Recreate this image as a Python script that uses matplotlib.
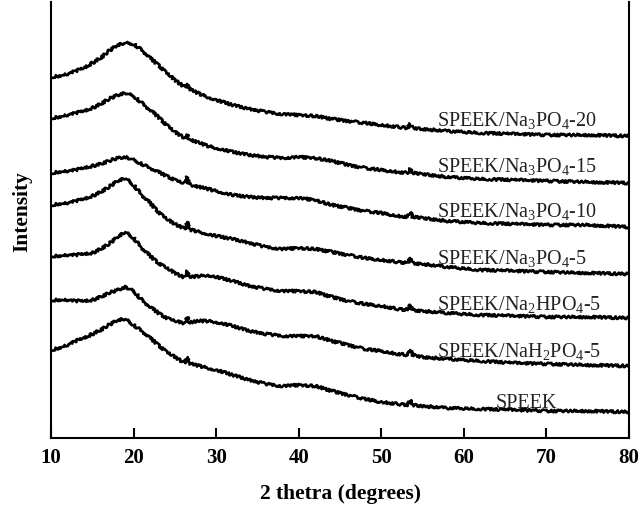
import matplotlib
matplotlib.use("Agg")
import matplotlib.pyplot as plt

plt.rcParams["font.family"] = ["Liberation Serif", "DejaVu Serif"]
plt.rcParams["mathtext.fontset"] = "custom"
plt.rcParams["mathtext.rm"] = "Liberation Serif"
plt.rcParams["mathtext.it"] = "Liberation Serif:italic"
plt.rcParams["mathtext.bf"] = "Liberation Serif:bold"

# 2-theta grid (degrees)
two_theta = [10, 11, 12, 13, 14, 15, 16, 17, 18, 19, 20, 21, 22, 23, 24, 25, 26,
             26.3, 26.5, 26.7, 27, 28, 29, 30, 32, 34, 36, 38, 40, 42, 44, 46,
             48, 50, 52, 53.2, 53.5, 53.8, 55, 58, 62, 66, 70, 75, 80]

# stacked intensities (a.u., offset for display)
na3po4_20 = [363, 364, 366, 369, 372, 377, 382, 389, 395, 397, 396, 390, 382, 375,
             367, 360, 354, 353, 356, 352, 350, 346, 343, 340, 335, 331, 328, 326,
             325, 324, 321, 319, 317, 315, 313, 312, 316, 312, 311, 309, 307, 306,
             305, 305, 304]
na3po4_15 = [322, 323, 325, 327, 329, 332, 336, 341, 345, 347, 344, 337, 330, 323,
             315, 308, 303, 302, 305, 301, 300, 297, 294, 292, 288, 285, 283, 282,
             283, 282, 279, 275, 272, 270, 268, 267, 271, 267, 266, 263, 261, 260,
             259, 258, 257]
na3po4_10 = [267, 268, 269, 270, 272, 274, 276, 279, 282, 283, 280, 276, 272, 268,
             264, 260, 257, 257, 263, 256, 255, 253, 251, 249, 245, 243, 242, 242,
             242, 240, 235, 232, 229, 227, 224, 223, 228, 223, 222, 219, 217, 216,
             215, 215, 213]
na3po4_5 = [235, 236, 237, 239, 241, 244, 248, 253, 259, 262, 255, 245, 237, 228,
            221, 216, 212, 212, 218, 211, 210, 208, 206, 204, 201, 197, 193, 191,
            192, 191, 188, 185, 182, 180, 178, 177, 182, 177, 176, 173, 170, 169,
            168, 167, 166]
na2hpo4_5 = [184, 184, 185, 185, 186, 187, 191, 196, 203, 208, 202, 192, 184, 177,
             172, 167, 163, 163, 169, 163, 163, 164, 165, 163, 159, 154, 151, 149,
             149, 148, 143, 139, 136, 134, 131, 130, 135, 130, 129, 127, 125, 124,
             123, 123, 122]
nah2po4_5 = [140, 140, 140, 139, 139, 140, 143, 147, 150, 153, 149, 140, 133, 127,
             122, 119, 117, 117, 123, 117, 118, 119, 119, 118, 114, 109, 106, 104,
             104, 104, 99, 95, 91, 89, 86, 85, 90, 85, 83, 81, 79, 77, 76, 75, 74]
speek = [90, 92, 95, 99, 102, 106, 110, 115, 120, 121, 115, 109, 102, 95, 88, 83,
         78, 78, 83, 77, 76, 74, 72, 70, 65, 60, 56, 54, 55, 54, 49, 45, 41, 38,
         36, 35, 40, 35, 34, 32, 31, 30, 29, 29, 28]

series = [na3po4_20, na3po4_15, na3po4_10, na3po4_5, na2hpo4_5, nah2po4_5, speek]
labels = [r"SPEEK/Na$_\mathrm{3}$PO$_\mathrm{4}$-20",
          r"SPEEK/Na$_\mathrm{3}$PO$_\mathrm{4}$-15",
          r"SPEEK/Na$_\mathrm{3}$PO$_\mathrm{4}$-10",
          r"SPEEK/Na$_\mathrm{3}$PO$_\mathrm{4}$-5",
          r"SPEEK/Na$_\mathrm{2}$HPO$_\mathrm{4}$-5",
          r"SPEEK/NaH$_\mathrm{2}$PO$_\mathrm{4}$-5",
          "SPEEK"]
label_x = [56.8, 56.8, 56.8, 56.8, 56.8, 56.8, 63.8]
label_y = [314, 268, 223, 176, 130, 83, 32]

fig = plt.figure(figsize=(6.4, 5.07), dpi=100)
ax = fig.add_axes([51 / 640, 1 - 438 / 507, 578 / 640, 436 / 507])

for vals in series:
    line, = ax.plot(two_theta, vals, color="black", lw=1.9)
    line.set_sketch_params(scale=1.3, length=2.5, randomness=3)

for txt, tx, ty in zip(labels, label_x, label_y):
    ax.text(tx, ty, txt, fontsize=14.5, color="#222222", ha="left", va="baseline")

ax.set_xlim(10, 80)
ax.set_ylim(2, 438)
ax.set_xticks([10, 20, 30, 40, 50, 60, 70, 80])
ax.set_yticks([])
ax.tick_params(axis="x", direction="in", length=7, width=1.5, pad=7,
               labelsize=15)
for lab in ax.get_xticklabels():
    lab.set_fontweight("bold")

ax.spines["top"].set_visible(False)
for side in ("left", "right", "bottom"):
    ax.spines[side].set_linewidth(1.5)

ax.set_xlabel("2 thetra (degrees)", fontsize=15.5, fontweight="bold", labelpad=12)
ax.set_ylabel("Intensity", fontsize=15.5, fontweight="bold")
ax.yaxis.set_label_coords(-0.032, 0.52)

fig.savefig("out.png", dpi=100)
